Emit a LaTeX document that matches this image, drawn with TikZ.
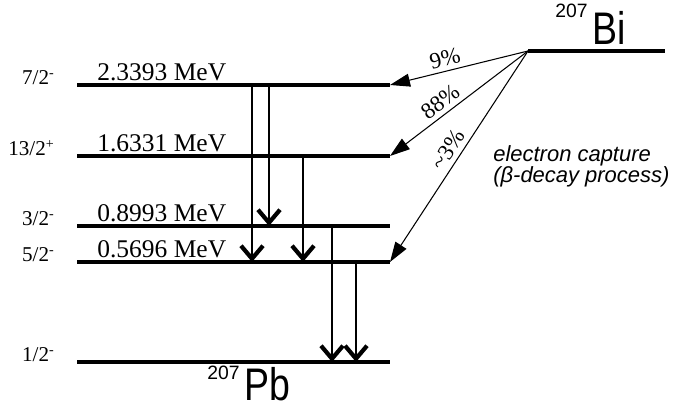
\documentclass[tikz,border=0pt]{standalone}
\usepackage{fontspec}
\setmainfont{Liberation Serif}
\setsansfont{Liberation Sans}
\newfontfamily\narrowsans[FakeStretch=0.82]{Liberation Sans}
\usetikzlibrary{arrows.meta, positioning, calc}

\begin{document}
\begin{tikzpicture}[
  level/.style={line width=2.4pt},
  gammaline/.style={line width=0.6pt, -{Straight Barb[length=0.26cm, width=0.44cm, line width=2.4pt]}},
  capture/.style={line width=0.6pt, -{Triangle[length=0.40cm, width=0.26cm]}},
  spin/.style={anchor=base east, inner sep=0pt, font=\fontsize{12}{14}\selectfont},
  energy/.style={anchor=base west, inner sep=0pt, font=\fontsize{14.5}{17}\selectfont},
  pct/.style={sloped, above, inner sep=2.5pt, font=\fontsize{13}{15}\selectfont},
  nucl/.style={anchor=base west, inner sep=0pt}]
  \useasboundingbox (0,0) rectangle (13.56,8.26);

  \foreach \n/\y in {1/6.56, 2/5.14, 3/3.74, 4/3.02, 5/1.02} {
    \coordinate (lw\n) at (1.54,\y);
    \coordinate (le\n) at (7.80,\y);
    \draw[level] (lw\n) -- (le\n);
  }
  \coordinate (biw) at (10.56,7.24);
  \coordinate (bie) at (13.30,7.24);
  \draw[level] (biw) -- (bie);

  \node[spin] (s1) at ($(lw1)+(-0.44,0)$) {7/2\textsuperscript{-}};
  \node[spin] (s2) at ($(lw2)+(-0.44,0)$) {13/2\textsuperscript{+}};
  \node[spin] (s3) at ($(lw3)+(-0.44,0)$) {3/2\textsuperscript{-}};
  \node[spin] (s4) at ($(lw4)+(-0.44,0)$) {5/2\textsuperscript{-}};
  \node[spin] (s5) at ($(lw5)+(-0.44,0)$) {1/2\textsuperscript{-}};

  \node[energy] (e1) at ($(lw1)+(0.40,0.08)$) {2.3393 MeV};
  \node[energy] (e2) at ($(lw2)+(0.40,0.08)$) {1.6331 MeV};
  \node[energy] (e3) at ($(lw3)+(0.40,0.08)$) {0.8993 MeV};
  \node[energy] (e4) at ($(lw4)+(0.40,0.08)$) {0.5696 MeV};

  \coordinate (ga) at (5.04,0);
  \coordinate (gb) at (5.38,0);
  \coordinate (gc) at (6.06,0);
  \coordinate (gd) at (6.64,0);
  \coordinate (ge) at (7.12,0);
  \draw[gammaline] (ga |- lw1) -- (ga |- lw4);
  \draw[gammaline] (gb |- lw1) -- (gb |- lw3);
  \draw[gammaline] (gc |- lw2) -- (gc |- lw4);
  \draw[gammaline] (gd |- lw3) -- (gd |- lw5);
  \draw[gammaline] (ge |- lw4) -- (ge |- lw5);

  \draw[capture] (biw) -- node[pct, pos=0.58] (p1) {9\%} (le1);
  \draw[capture] (biw) -- node[pct, pos=0.58] (p2) {88\%} (le2);
  \draw[capture] (biw) -- node[pct, pos=0.50] (p3) {\textasciitilde3\%} (le4);

  \node[anchor=north west, inner sep=0pt, align=left,
        font=\sffamily\itshape\fontsize{12.5}{12}\selectfont] (ec) at (9.86,5.36)
        {electron capture\\(β-decay process)};

  \node[nucl] (bi) at (11.10,7.36)
    {\raisebox{0.54cm}{\sffamily\fontsize{11}{13}\selectfont 207}\hspace{0.1cm}{\narrowsans\fontsize{26}{30}\selectfont Bi}};
  \node[nucl] (pb) at (4.14,0.24)
    {\raisebox{0.42cm}{\sffamily\fontsize{11}{13}\selectfont 207}\hspace{0.1cm}{\narrowsans\fontsize{26}{30}\selectfont Pb}};
\end{tikzpicture}
\end{document}
